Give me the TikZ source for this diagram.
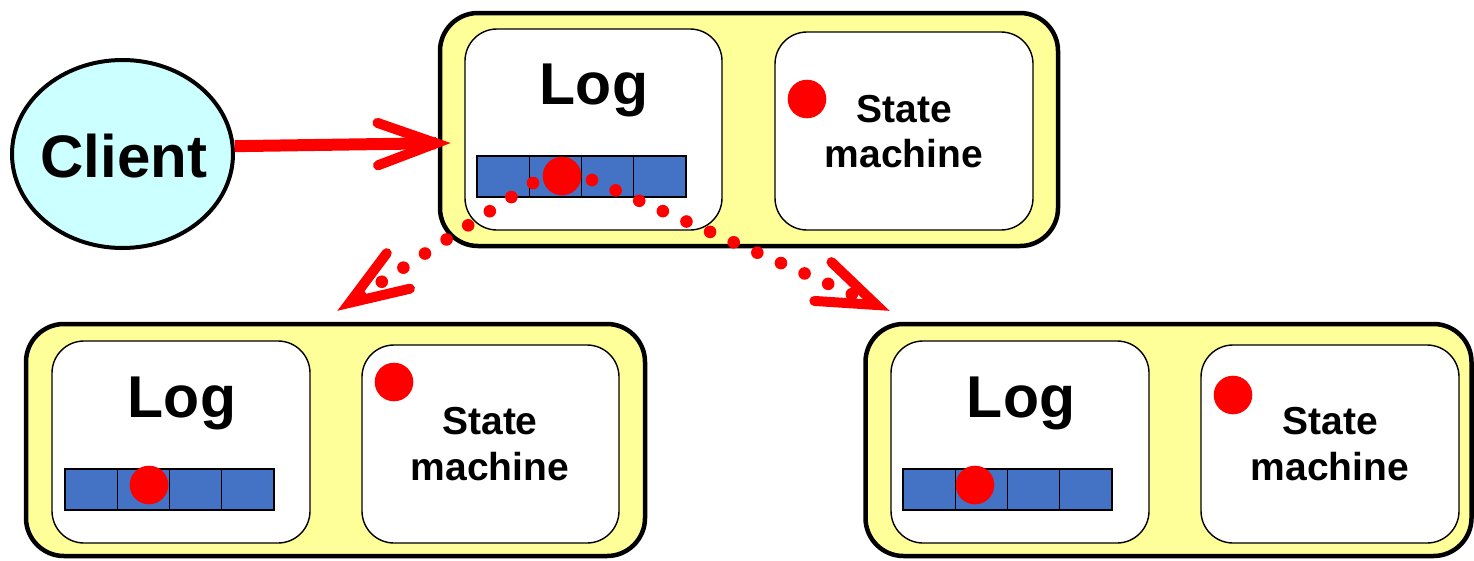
\documentclass[tikz,border=0pt]{standalone}
\usepackage{fontspec}
\setmainfont{Liberation Sans}
\usetikzlibrary{calc,shapes.geometric}

\definecolor{serveryellow}{HTML}{FFFF99}
\definecolor{clientcyan}{HTML}{CCFFFF}
\definecolor{cellblue}{HTML}{4472C4}
\definecolor{entryred}{HTML}{FF0000}

% open chevron head: tip #1, pointing away from #2, vertex pulled back by #3
\newcommand\chevronhead[3]{%
  \coordinate (hv) at ($(#1)!#3!(#2)$);
  \draw[chev] ($(hv)!62pt!20:(#2)$) -- (hv) -- ($(hv)!62pt!-20:(#2)$);
}

\begin{document}
\begin{tikzpicture}[x=1pt,y=-1pt,
  server/.style={draw=black, line width=4.5pt, fill=serveryellow,
    rounded corners=38pt, inner sep=0pt, minimum height=232pt},
  part/.style={draw=black, line width=1.4pt, fill=white,
    rounded corners=32pt, inner sep=0pt},
  logtitle/.style={anchor=base, inner sep=0pt,
    font=\fontsize{59}{59}\selectfont\bfseries},
  smtitle/.style={anchor=base, inner sep=0pt,
    font=\fontsize{39}{39}\selectfont\bfseries},
  cell/.style={draw=black, line width=1.2pt, fill=cellblue,
    minimum width=52.25pt, minimum height=41pt, inner sep=0pt},
  entry/.style={circle, fill=entryred, minimum size=38.6pt, inner sep=0pt},
  dotline/.style={draw=entryred, line width=12.6pt, line cap=round,
    dash pattern=on 0pt off 25.8pt},
  chev/.style={draw=entryred, line width=10pt, line cap=round, line join=miter},
  request/.style={draw=entryred, line width=12pt},
]
\useasboundingbox (0,0) rectangle (1474,560);

% client
\node[ellipse, draw=black, line width=4pt, fill=clientcyan,
  minimum width=221pt, minimum height=188pt, inner sep=0pt] (client) at (122.5,154) {};
\node[anchor=base, inner sep=0pt,
  font=\fontsize{60}{60}\selectfont\bfseries] (clientname) at (124,177) {Client};

% servers
\node[server, minimum width=618pt, minimum height=233pt] (srvT) at (749,129.5) {};
\node[server, minimum width=619pt] (srvL) at (335.5,440) {};
\node[server, minimum width=606pt] (srvR) at (1168.5,440) {};

% log and state machine panels
\node[part, minimum width=257pt, minimum height=201pt] (logT) at (593.5,129.5) {};
\node[part, minimum width=258pt, minimum height=198pt] (smT) at (904,131) {};
\node[part, minimum width=258pt, minimum height=202pt] (logL) at (181,442) {};
\node[part, minimum width=257pt, minimum height=198pt] (smL) at (490.5,444) {};
\node[part, minimum width=258pt, minimum height=202pt] (logR) at (1020,442) {};
\node[part, minimum width=258pt, minimum height=198pt] (smR) at (1330,444) {};

% panel titles
\node[logtitle] (logTtxt) at (594,104) {Log};
\node[logtitle] (logLtxt) at (182,417) {Log};
\node[logtitle] (logRtxt) at (1021,417) {Log};
\node[smtitle] (smTa) at (904,122) {State};
\node[smtitle] (smTb) at (904,167) {machine};
\node[smtitle] (smLa) at (490,434) {State};
\node[smtitle] (smLb) at (490,480) {machine};
\node[smtitle] (smRa) at (1330,434) {State};
\node[smtitle] (smRb) at (1330,480) {machine};

% log cells
\foreach \i in {0,...,3} {
  \node[cell] (cT\i) at ({477+26.125+52.25*\i},176.5) {};
  \node[cell] (cL\i) at ({65+26.125+52.25*\i},489.5) {};
  \node[cell] (cR\i) at ({903+26.125+52.25*\i},489.5) {};
}

% entries
\node[entry] (eT) at (562,176) {};
\node[entry] (sT) at (807,99) {};
\node[entry] (eL) at (149,485) {};
\node[entry] (sL) at (394,382) {};
\node[entry] (eR) at (975,485) {};
\node[entry] (sR) at (1233,395) {};

% replication to followers
\coordinate (dl0) at (533,183);
\coordinate (tipL) at (337,311);
\coordinate (dr0) at (592,180);
\coordinate (tipR) at (890,311);
\draw[dotline, shorten >=22pt] (dl0) -- (tipL);
\draw[dotline, shorten >=30pt] (dr0) -- (tipR);
\chevronhead{tipL}{dl0}{15pt}
\chevronhead{tipR}{dr0}{15pt}

% client request
\coordinate (tipC) at (452,143);
\draw[request, shorten >=16pt] (client.4) -- (tipC);
\chevronhead{tipC}{client.4}{16pt}
\end{tikzpicture}
\end{document}
